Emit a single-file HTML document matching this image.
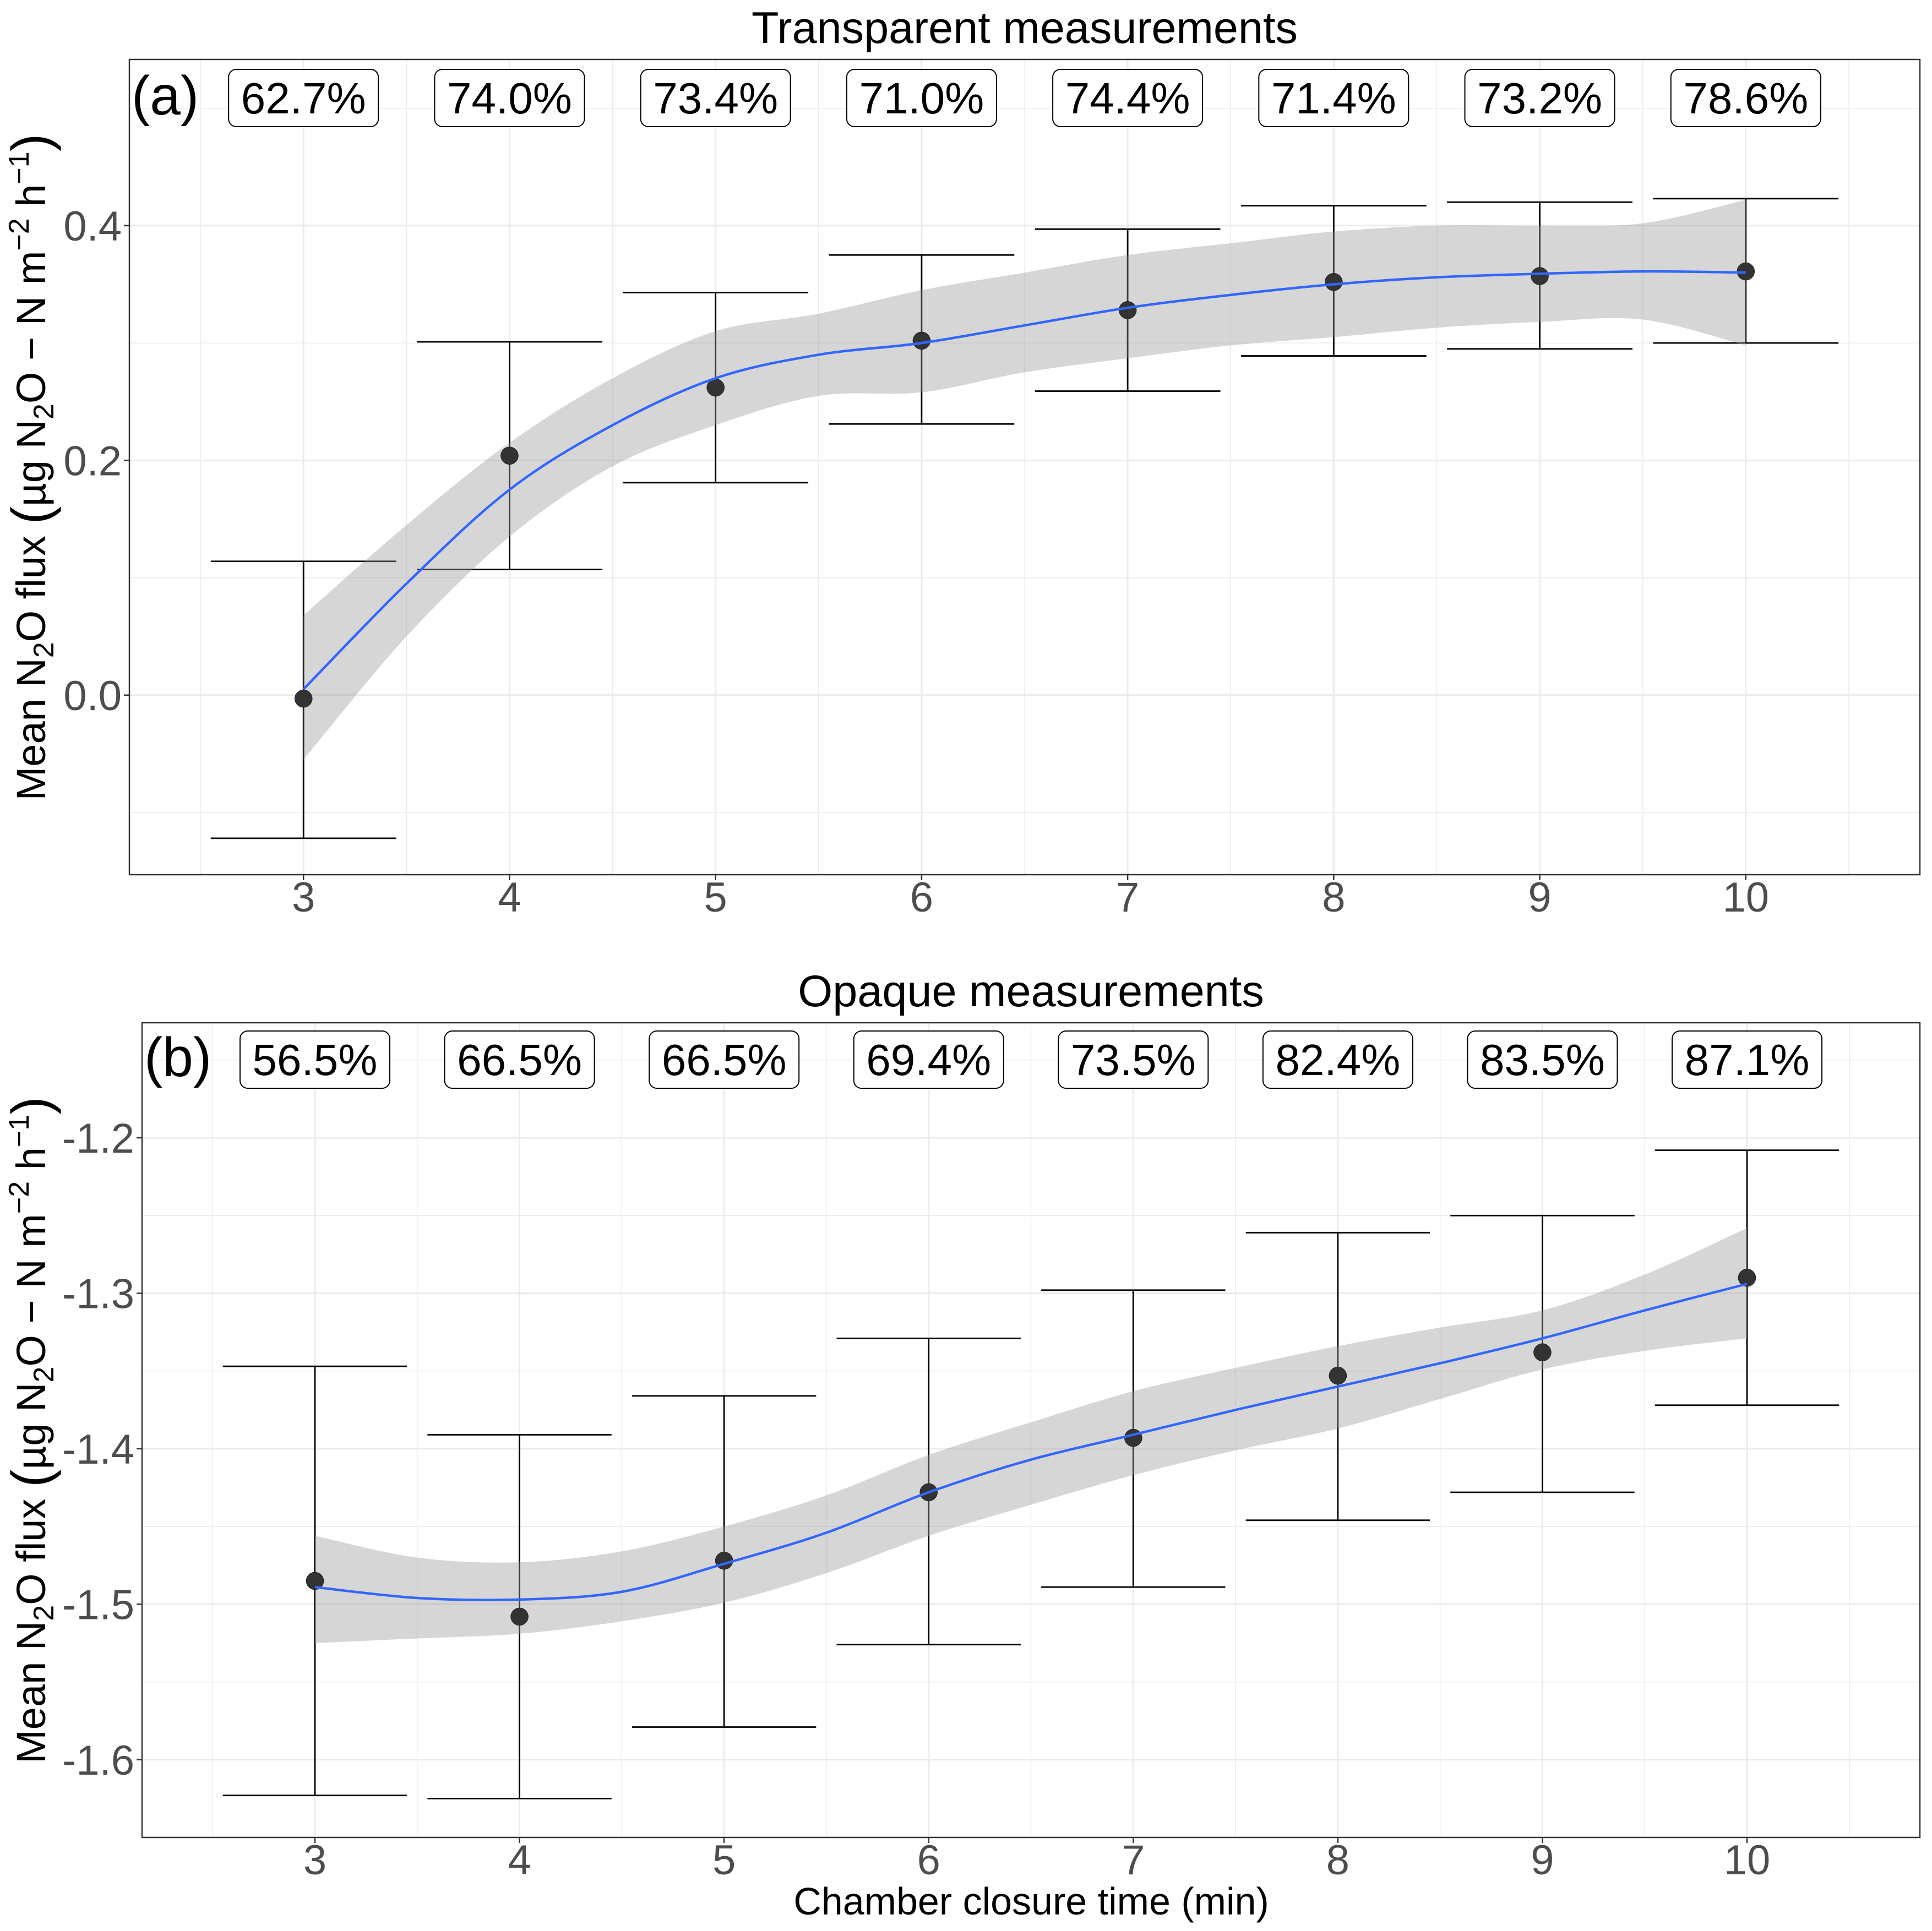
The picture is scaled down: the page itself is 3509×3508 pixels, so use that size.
<!DOCTYPE html>
<html><head><meta charset="utf-8">
<style>
html,body{margin:0;padding:0;background:#fff;}
svg{display:block;font-family:"Liberation Sans",sans-serif;}
</style></head>
<body>
<svg id="chart" xmlns="http://www.w3.org/2000/svg" width="3509" height="3508" viewBox="0 0 3509 3508">
<rect width="3509" height="3508" fill="#fff"/>
<text x="1873" y="3478" font-size="70" text-anchor="middle" fill="#000">Chamber closure time (min)</text>
</svg>
<script>
// ---- data panel a ----
const xCats = [3,4,5,6,7,8,9,10];
const aMeans = [-0.003,0.204,0.262,0.302,0.328,0.352,0.357,0.361];
const aUpper = [0.114,0.301,0.343,0.375,0.397,0.417,0.420,0.423];
const aLower = [-0.122,0.107,0.181,0.231,0.259,0.289,0.295,0.300];
const aLabels = ["62.7%","74.0%","73.4%","71.0%","74.4%","71.4%","73.2%","78.6%"];
const fitX = [3,3.5,4,4.5,5,5.5,6,6.5,7,7.5,8,8.5,9,9.5,10];
const aFit = [0.005,0.095,0.175,0.230,0.270,0.290,0.300,0.315,0.330,0.341,0.350,0.356,0.359,0.361,0.360];
const aBandHi = [0.068,0.145,0.215,0.270,0.310,0.325,0.345,0.360,0.375,0.385,0.395,0.400,0.400,0.402,0.422];
const aBandLo = [-0.055,0.050,0.135,0.195,0.230,0.255,0.258,0.275,0.287,0.298,0.305,0.313,0.318,0.320,0.298];
const aTicks = [0.0,0.2,0.4];
const aTickLabels = ["0.0","0.2","0.4"];
// ---- data panel b ----
const bMeans = [-1.485,-1.508,-1.472,-1.428,-1.393,-1.353,-1.338,-1.290];
const bUpper = [-1.347,-1.391,-1.366,-1.329,-1.298,-1.261,-1.250,-1.208];
const bLower = [-1.623,-1.625,-1.579,-1.526,-1.489,-1.446,-1.428,-1.372];
const bLabels = ["56.5%","66.5%","66.5%","69.4%","73.5%","82.4%","83.5%","87.1%"];
const bFit = [-1.489,-1.496,-1.497,-1.492,-1.474,-1.454,-1.428,-1.407,-1.391,-1.375,-1.360,-1.345,-1.329,-1.311,-1.294];
const bBandHi = [-1.456,-1.470,-1.473,-1.466,-1.450,-1.430,-1.404,-1.383,-1.363,-1.348,-1.334,-1.322,-1.311,-1.288,-1.258];
const bBandLo = [-1.525,-1.522,-1.519,-1.511,-1.499,-1.480,-1.456,-1.436,-1.417,-1.401,-1.387,-1.368,-1.349,-1.337,-1.329];
const bTicks = [-1.6,-1.5,-1.4,-1.3,-1.2];
const bTickLabels = ["-1.6","-1.5","-1.4","-1.3","-1.2"];

const NS="http://www.w3.org/2000/svg";
const svg=document.getElementById('chart');
function mk(tag,attrs,parent){const e=document.createElementNS(NS,tag);for(const k in attrs)e.setAttribute(k,attrs[k]);(parent||svg).appendChild(e);return e;}
function smooth(pts){let d="M"+pts[0][0]+","+pts[0][1];for(let i=0;i<pts.length-1;i++){const p0=pts[Math.max(0,i-1)],p1=pts[i],p2=pts[i+1],p3=pts[Math.min(pts.length-1,i+2)];
const c1=[p1[0]+(p2[0]-p0[0])/6,p1[1]+(p2[1]-p0[1])/6],c2=[p2[0]-(p3[0]-p1[0])/6,p2[1]-(p3[1]-p1[1])/6];d+=" C"+c1+" "+c2+" "+p2;}return d;}

function panel(o){
  const g=mk('g',{});
  
  
  const L=o.left,R=o.right,T=o.top,B=o.bottom;
  const xs=v=>L+(v-o.xmin)/(o.xmax-o.xmin)*(R-L);
  const ys=v=>B-(v-o.ymin)/(o.ymax-o.ymin)*(B-T);
  for(let v=2.5;v<=10.5;v+=1){const l=mk('line',{x1:xs(v),x2:xs(v),y1:T,y2:B,stroke:'#ebebeb','stroke-width':1.5},g);}
  const st=o.ticks[1]-o.ticks[0];
  for(let v=o.ticks[0]-st/2;v<o.ymax;v+=st){if(v>o.ymin){const l=mk('line',{x1:L,x2:R,y1:ys(v),y2:ys(v),stroke:'#ebebeb','stroke-width':1.5},g);}}
  xCats.forEach(v=>{const l=mk('line',{x1:xs(v),x2:xs(v),y1:T,y2:B,stroke:'#ebebeb','stroke-width':3},g);});
  o.ticks.forEach((v,i)=>{const l=mk('line',{x1:L,x2:R,y1:ys(v),y2:ys(v),stroke:'#ebebeb','stroke-width':3},g);
    const tk=mk('line',{x1:L-10,x2:L,y1:ys(v),y2:ys(v),stroke:'#333','stroke-width':2.5},g);
    const t=mk('text',{x:L-14,y:ys(v)+27,'font-size':76,'text-anchor':'end',fill:'#4d4d4d'},g);t.textContent=o.tickLabels[i];});
  xCats.forEach(v=>{const tk=mk('line',{x1:xs(v),x2:xs(v),y1:B,y2:B+10,stroke:'#333','stroke-width':2.5},g);
    const t=mk('text',{x:xs(v),y:B+67,'font-size':76,'text-anchor':'middle',fill:'#4d4d4d'},g);t.textContent=String(v);});
  xCats.forEach((v,i)=>{const eg=mk('g',{stroke:'#000','stroke-width':2.8,fill:'none'},g);
    mk('line',{x1:xs(v),x2:xs(v),y1:ys(o.upper[i]),y2:ys(o.lower[i])},eg);
    mk('line',{x1:xs(v-0.45),x2:xs(v+0.45),y1:ys(o.upper[i]),y2:ys(o.upper[i])},eg);
    mk('line',{x1:xs(v-0.45),x2:xs(v+0.45),y1:ys(o.lower[i]),y2:ys(o.lower[i])},eg);});
  const hi=fitX.map((v,i)=>[xs(v),ys(o.bandHi[i])]);
  const lo=fitX.map((v,i)=>[xs(v),ys(o.bandLo[i])]).reverse();
  const dHi=smooth(hi),dLo=smooth(lo).replace(/^M/,'L');
  const band=mk('path',{d:dHi+" "+dLo+" Z",fill:'#999','fill-opacity':0.4,stroke:'none'},g);
  
  xCats.forEach((v,i)=>{const c=mk('circle',{cx:xs(v),cy:ys(o.means[i]),r:16,fill:'#333',stroke:'#000','stroke-width':0.5},g);});
  const fit=mk('path',{d:smooth(fitX.map((v,i)=>[xs(v),ys(o.fit[i])])),fill:'none',stroke:'#3366ff','stroke-width':4.5},g);
  
  xCats.forEach((v,i)=>{const lg=mk('g',{},g);
    mk('rect',{x:xs(v)-136,y:o.boxTop,width:272,height:104,rx:14,fill:'#fff',stroke:'#000','stroke-width':2},lg);
    const t=mk('text',{x:xs(v),y:o.boxTop+80,'font-size':80,'text-anchor':'middle',fill:'#000'},lg);t.textContent=o.labels[i];});
  const pl=mk('text',{x:L+4,y:o.boxTop+82,'font-size':100,fill:'#000'},g);pl.textContent=o.tag;
  const fr=mk('rect',{x:L,y:T,width:R-L,height:B-T,fill:'none',stroke:'#333','stroke-width':2.5},g);
  const ti=mk('text',{x:(L+R)/2,y:o.titleY,'font-size':81,'text-anchor':'middle',fill:'#000'},g);ti.textContent=o.title;
  const cy=(T+B)/2;
  const yt=mk('text',{x:0,y:0,'font-size':74,'text-anchor':'middle',fill:'#000',transform:`translate(${o.ytX},${cy}) rotate(-90)`},g);
  
  yt.innerHTML='Mean N<tspan font-size="52" dy="15">2</tspan><tspan dy="-15">O flux </tspan><tspan font-size="98" dy="8">(</tspan><tspan dy="-8">µg N</tspan><tspan font-size="52" dy="15">2</tspan><tspan dy="-15">O − N m</tspan><tspan font-size="52" dy="-30">−2</tspan><tspan dy="30"> h</tspan><tspan font-size="52" dy="-30">−1</tspan><tspan font-size="98" dy="38">)</tspan>';
}
panel({name:'panel-a-transparent',left:235,right:3487,top:108,bottom:1589,xmin:2.155,xmax:10.845,ymin:-0.153,ymax:0.5416,
  ticks:aTicks,tickLabels:aTickLabels,means:aMeans,upper:aUpper,lower:aLower,fit:aFit,bandHi:aBandHi,bandLo:aBandLo,labels:aLabels,
  boxTop:126,tag:'(a)',title:'Transparent measurements',titleY:78,ytX:82});
panel({name:'panel-b-opaque',left:258,right:3487,top:1858,bottom:3338,xmin:2.155,xmax:10.845,ymin:-1.650,ymax:-1.126,
  ticks:bTicks,tickLabels:bTickLabels,means:bMeans,upper:bUpper,lower:bLower,fit:bFit,bandHi:bBandHi,bandLo:bBandLo,labels:bLabels,
  boxTop:1873,tag:'(b)',title:'Opaque measurements',titleY:1828,ytX:82});
</script>
</body></html>
